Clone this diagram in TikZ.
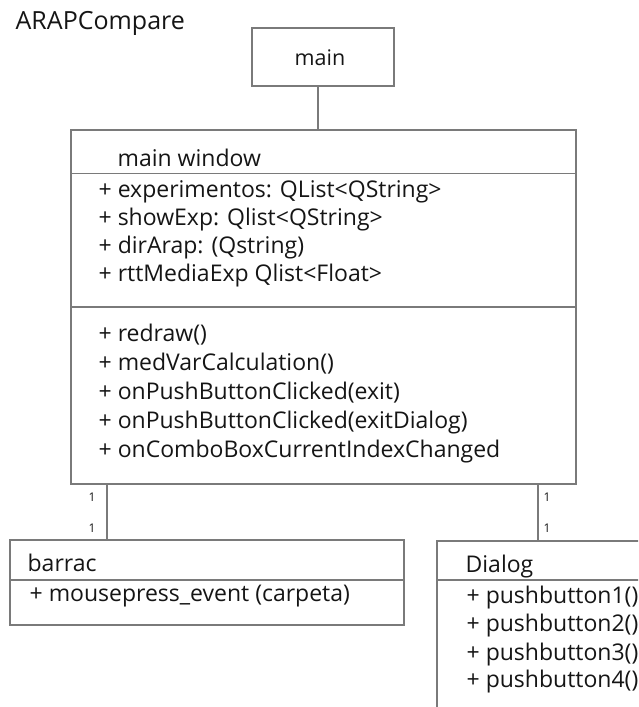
\documentclass[tikz,border=0pt]{standalone}
\usepackage{fontspec}
\setmainfont{Open Sans}
\begin{document}
\begin{tikzpicture}[x=1pt,y=-1pt,
  line width=1.3pt,
  edge/.style={draw=linegray,line width=1.3pt},
  classbox/.style={draw=linegray,line width=1.3pt,rectangle,inner sep=0pt},
  lbl/.style={anchor=base west,inner sep=0pt,text=ink,font=\fontsize{23}{25}\selectfont},
  mult/.style={anchor=base,inner sep=0pt,text=ink,font=\fontsize{12}{13}\selectfont},
]
\definecolor{linegray}{HTML}{7A7A7A}
\definecolor{ink}{HTML}{151515}
\useasboundingbox (0,0) rectangle (638,707);
\clip (0,0) rectangle (638,707);

% package title
\node[lbl,font=\fontsize{25}{27}\selectfont] (pkg) at (15,29) {ARAPCompare};

% main
\node[classbox,minimum width=142pt,minimum height=58pt] (main) at (323,57) {};
\node[anchor=base,text=ink,inner sep=0pt,font=\fontsize{21.5}{23}\selectfont] (maintxt) at (320,65) {main};

% main window class
\draw[classbox] (71,130) rectangle (576,484);
\coordinate (mwtop) at (318,130);
\coordinate (mwbl) at (107,484);
\coordinate (mwbr) at (538,484);
\draw[edge] (71,173.5) -- (576,173.5);
\draw[edge] (71,307) -- (576,307);
\node[lbl] (mwname) at (117,166) {main window};
\node[lbl] (a1) at (98,197) {+ experimentos: QList<QString>};
\node[lbl] (a2) at (98,225) {+ showExp: Qlist<QString>};
\node[lbl] (a3) at (98,253) {+ dirArap: (Qstring)};
\node[lbl] (a4) at (98,281) {+ rttMediaExp Qlist<Float>};
\node[lbl] (m1) at (98,341) {+ redraw()};
\node[lbl] (m2) at (98,370) {+ medVarCalculation()};
\node[lbl] (m3) at (98,399) {+ onPushButtonClicked(exit)};
\node[lbl] (m4) at (98,428) {+ onPushButtonClicked(exitDialog)};
\node[lbl] (m5) at (98,457) {+ onComboBoxCurrentIndexChanged};

% barrac class
\draw[classbox] (10,540) rectangle (404,625);
\coordinate (bartop) at (107,540);
\draw[edge] (10,580) -- (404,580);
\node[lbl] (barname) at (27,571) {barrac};
\node[lbl] (b1) at (29,601) {+ mousepress\_event (carpeta)};

% Dialog class
\draw[classbox] (437,541) rectangle (720,760);
\coordinate (dlgtop) at (538,541);
\draw[edge] (437,580) -- (720,580);
\node[lbl] (dlgname) at (465,572) {Dialog};
\node[lbl] (d1) at (466,603) {+ pushbutton1()};
\node[lbl] (d2) at (466,631) {+ pushbutton2()};
\node[lbl] (d3) at (466,660) {+ pushbutton3()};
\node[lbl] (d4) at (466,687) {+ pushbutton4()};

% associations
\draw[edge] (main.south -| mwtop) -- (mwtop);
\draw[edge] (mwbl) -- (bartop);
\draw[edge] (mwbr) -- (dlgtop);

% multiplicities
\node[mult] (ml1) at (92,501) {1};
\node[mult] (ml2) at (92,532) {1};
\node[mult] (mr1) at (547,501) {1};
\node[mult] (mr2) at (547,532) {1};
\end{tikzpicture}
\end{document}
